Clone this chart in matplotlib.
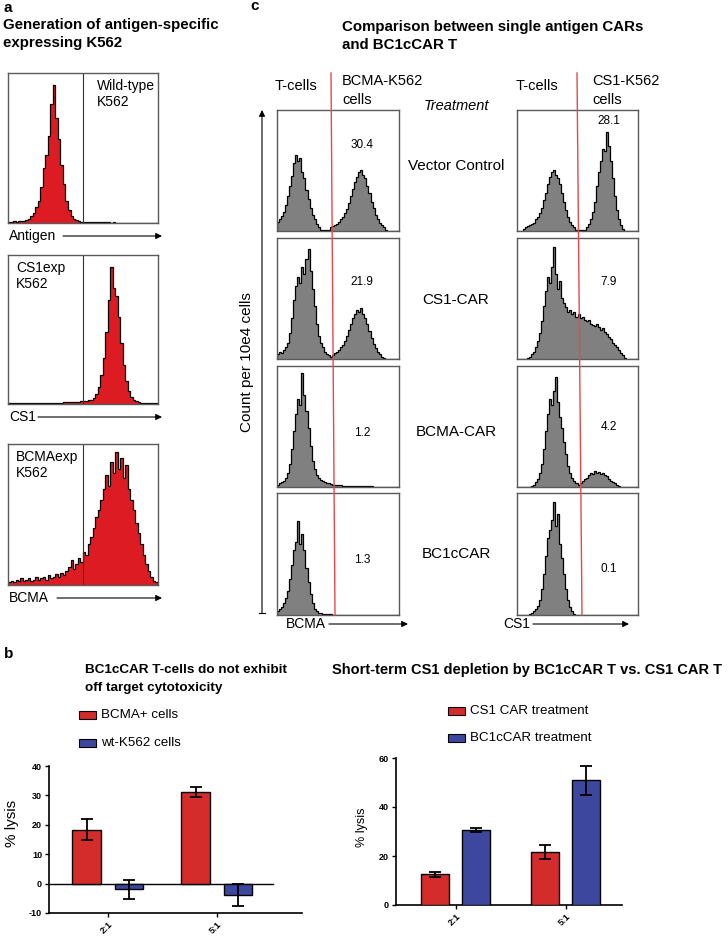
import numpy as np
import matplotlib
matplotlib.use("Agg")
import matplotlib.pyplot as plt
from matplotlib.patches import Rectangle

plt.rcParams['font.family'] = ['Liberation Sans', 'DejaVu Sans']

W, H = 728, 941

# ---- panel a: antigen expression histograms (60 bins, height as fraction of box) ----
wt_k562 = [0.01, 0.01, 0.012, 0.01, 0.012, 0.012, 0.015, 0.02, 0.03, 0.05,
           0.07, 0.11, 0.15, 0.25, 0.38, 0.47, 0.6, 0.82, 0.95, 0.72,
           0.58, 0.4, 0.27, 0.15, 0.09, 0.05, 0.03, 0.02, 0.015, 0.01,
           0.006, 0.005, 0.005, 0.005, 0.004, 0.005, 0.004, 0.004, 0.004, 0.004,
           0.004, 0.003, 0.004, 0.003, 0.003, 0.003, 0.003, 0.003, 0.003, 0.003,
           0.003, 0.003, 0.002, 0.003, 0.002, 0.002, 0.002, 0.002, 0.002, 0.002]
cs1exp_k562 = [0.004, 0.004, 0.004, 0.004, 0.004, 0.005, 0.005, 0.005, 0.005, 0.006,
               0.006, 0.006, 0.007, 0.007, 0.008, 0.008, 0.008, 0.009, 0.009, 0.01,
               0.01, 0.01, 0.012, 0.012, 0.012, 0.014, 0.014, 0.015, 0.016, 0.018,
               0.02, 0.022, 0.025, 0.03, 0.04, 0.07, 0.12, 0.2, 0.32, 0.5,
               0.72, 0.95, 0.8, 0.75, 0.6, 0.42, 0.27, 0.16, 0.09, 0.05,
               0.03, 0.02, 0.015, 0.01, 0.01, 0.008, 0.006, 0.005, 0.004, 0.004]
bcmaexp_k562 = [0.02, 0.03, 0.02, 0.04, 0.03, 0.05, 0.03, 0.04, 0.05, 0.03,
                0.04, 0.06, 0.04, 0.05, 0.06, 0.04, 0.07, 0.05, 0.06, 0.08,
                0.06, 0.09, 0.07, 0.1, 0.13, 0.18, 0.12, 0.15, 0.2, 0.17,
                0.24, 0.22, 0.3, 0.35, 0.42, 0.5, 0.55, 0.62, 0.7, 0.8,
                0.72, 0.9, 0.82, 0.97, 0.85, 0.93, 0.78, 0.88, 0.7, 0.62,
                0.55, 0.45, 0.38, 0.3, 0.22, 0.15, 0.1, 0.06, 0.03, 0.02]
a_hists = [wt_k562, cs1exp_k562, bcmaexp_k562]
a_names = [["Wild-type", "K562"], ["CS1exp", "K562"], ["BCMAexp", "K562"]]
a_axis = ["Antigen", "CS1", "BCMA"]

# ---- panel c: treatment histograms ----
vc_bcma = [0.08, 0.1, 0.13, 0.16, 0.22, 0.3, 0.38, 0.47, 0.58, 0.65,
           0.6, 0.62, 0.5, 0.45, 0.35, 0.27, 0.2, 0.14, 0.1, 0.06,
           0.03, 0.01, 0.005, 0.005, 0.005, 0.01, 0.03, 0.04, 0.05, 0.06,
           0.08, 0.1, 0.12, 0.15, 0.19, 0.24, 0.3, 0.36, 0.42, 0.46,
           0.5, 0.52, 0.48, 0.45, 0.38, 0.32, 0.25, 0.2, 0.14, 0.1,
           0.07, 0.05, 0.03, 0.01, 0, 0, 0, 0, 0, 0]
vc_cs1 = [0, 0, 0, 0.02, 0.03, 0.04, 0.05, 0.06, 0.07, 0.1,
          0.12, 0.15, 0.2, 0.26, 0.32, 0.4, 0.46, 0.5, 0.52, 0.48,
          0.45, 0.4, 0.32, 0.25, 0.18, 0.12, 0.08, 0.05, 0.03, 0.01,
          0.005, 0.005, 0.005, 0.01, 0.03, 0.06, 0.1, 0.16, 0.25, 0.38,
          0.5, 0.6, 0.7, 0.68, 0.84, 0.72, 0.6, 0.45, 0.3, 0.18,
          0.1, 0.05, 0.02, 0, 0, 0, 0, 0, 0, 0]
cs1car_bcma = [0.04, 0.06, 0.05, 0.08, 0.1, 0.14, 0.22, 0.35, 0.5, 0.62,
               0.7, 0.65, 0.78, 0.72, 0.85, 0.94, 0.75, 0.6, 0.45, 0.3,
               0.2, 0.14, 0.1, 0.06, 0.04, 0.03, 0.02, 0.03, 0.05, 0.06,
               0.08, 0.1, 0.12, 0.15, 0.2, 0.25, 0.3, 0.35, 0.38, 0.42,
               0.4, 0.43, 0.38, 0.35, 0.3, 0.24, 0.18, 0.13, 0.09, 0.06,
               0.04, 0.02, 0.01, 0, 0, 0, 0, 0, 0, 0]
cs1car_cs1 = [0, 0, 0, 0, 0, 0.01, 0.02, 0.04, 0.06, 0.1,
              0.15, 0.22, 0.32, 0.45, 0.58, 0.7, 0.65, 0.78, 0.95, 0.72,
              0.6, 0.66, 0.52, 0.48, 0.44, 0.4, 0.42, 0.38, 0.4, 0.36,
              0.38, 0.35, 0.36, 0.33, 0.32, 0.33, 0.3, 0.29, 0.28, 0.3,
              0.27, 0.25, 0.26, 0.23, 0.21, 0.19, 0.17, 0.14, 0.12, 0.1,
              0.08, 0.05, 0.03, 0.01, 0, 0, 0, 0, 0, 0]
bcmacar_bcma = [0.02, 0.03, 0.04, 0.05, 0.08, 0.12, 0.2, 0.32, 0.48, 0.62,
                0.75, 0.7, 0.97, 0.78, 0.65, 0.5, 0.35, 0.22, 0.15, 0.1,
                0.08, 0.06, 0.05, 0.04, 0.035, 0.03, 0.025, 0.02, 0.02, 0.018,
                0.015, 0.015, 0.012, 0.012, 0.01, 0.01, 0.009, 0.008, 0.008, 0.007,
                0.007, 0.006, 0.006, 0.006, 0.005, 0.005, 0.005, 0.004, 0.004, 0.004,
                0.004, 0.003, 0.003, 0.003, 0.003, 0.003, 0.002, 0.002, 0.002, 0.002]
bcmacar_cs1 = [0, 0, 0, 0, 0, 0, 0, 0.01, 0.02, 0.04,
               0.07, 0.12, 0.2, 0.32, 0.48, 0.62, 0.75, 0.7, 0.82, 0.94,
               0.72, 0.6, 0.5, 0.38, 0.28, 0.18, 0.12, 0.08, 0.05, 0.03,
               0.02, 0.03, 0.05, 0.07, 0.08, 0.1, 0.12, 0.11, 0.14, 0.12,
               0.13, 0.11, 0.12, 0.1, 0.09, 0.07, 0.05, 0.04, 0.03, 0.02,
               0.01, 0, 0, 0, 0, 0, 0, 0, 0, 0]
bc1c_bcma = [0.03, 0.05, 0.07, 0.1, 0.14, 0.2, 0.3, 0.42, 0.55, 0.62,
             0.79, 0.6, 0.68, 0.55, 0.4, 0.28, 0.18, 0.1, 0.05, 0.03,
             0.02, 0.015, 0.01, 0.01, 0.008, 0.005, 0.005, 0.003, 0, 0,
             0, 0, 0, 0, 0, 0, 0, 0, 0, 0,
             0, 0, 0, 0, 0, 0, 0, 0, 0, 0,
             0, 0, 0, 0, 0, 0, 0, 0, 0, 0]
bc1c_cs1 = [0, 0, 0, 0, 0, 0, 0.01, 0.02, 0.03, 0.05,
            0.08, 0.13, 0.22, 0.35, 0.5, 0.65, 0.72, 0.8, 0.95, 0.75,
            0.85, 0.6, 0.48, 0.35, 0.22, 0.13, 0.07, 0.03, 0.01, 0,
            0, 0, 0, 0, 0, 0, 0, 0, 0, 0,
            0, 0, 0, 0, 0, 0, 0, 0, 0, 0,
            0, 0, 0, 0, 0, 0, 0, 0, 0, 0]
treatments = ["Vector Control", "CS1-CAR", "BCMA-CAR", "BC1cCAR"]
c_bcma = [vc_bcma, cs1car_bcma, bcmacar_bcma, bc1c_bcma]
c_cs1 = [vc_cs1, cs1car_cs1, bcmacar_cs1, bc1c_cs1]
pct_bcma = ["30.4", "21.9", "1.2", "1.3"]
pct_cs1 = ["28.1", "7.9", "4.2", "0.1"]

# ---- panel b: lysis bars ----
ratios = ["2:1", "5:1"]
bcma_pos = [18.4, 31.1]
bcma_pos_err = [3.5, 1.8]
wt_cells = [-2.0, -4.0]
wt_cells_err = [3.1, 3.7]
cs1_car = [12.5, 21.6]
cs1_car_err = [1.0, 2.7]
bc1c_car = [30.8, 50.9]
bc1c_car_err = [0.8, 5.8]

RED_FLOW = '#dc1c22'
GRAY_FLOW = '#808080'
RED_BAR = '#d42b2b'
BLUE_BAR = '#3d479e'

fig = plt.figure(figsize=(W / 100, H / 100), dpi=100)


def px_axes(x0, y0, x1, y1):
    return fig.add_axes([x0 / W, 1 - y1 / H, (x1 - x0) / W, (y1 - y0) / H])


def flow(ax, counts, fill):
    edges = np.linspace(0, 1, len(counts) + 1)
    ax.stairs(counts, edges, fill=True, color=fill, lw=0)
    ax.stairs(counts, edges, color='black', lw=0.9)
    ax.set_xlim(0, 1)
    ax.set_ylim(0, 1.03)
    ax.set_xticks([])
    ax.set_yticks([])
    for s in ax.spines.values():
        s.set_color('#5a5a5a')
        s.set_linewidth(1.0)


ov = fig.add_axes([0, 0, 1, 1], zorder=10)
ov.set_xlim(0, W)
ov.set_ylim(H, 0)
ov.axis('off')

arrow = dict(arrowstyle='-|>', color='black', lw=0.8, mutation_scale=9,
             shrinkA=0, shrinkB=0)

# panel a
ov.text(3, 8, "a", fontsize=11, fontweight='bold', va='center')
ov.text(3, 25, "Generation of antigen-specific", fontsize=10.8, fontweight='bold', va='center')
ov.text(3, 43, "expressing K562", fontsize=10.8, fontweight='bold', va='center')
a_boxes = [(73, 223), (255, 404), (444, 585)]
a_text_x = [97, 16, 16]
arrow_start = [63, 38, 57]
for i, (y0, y1) in enumerate(a_boxes):
    ax = px_axes(8, y0, 158, y1)
    flow(ax, a_hists[i], RED_FLOW)
    ax.axvline(0.5, color='#333333', lw=0.8)
    ov.text(a_text_x[i], y0 + 13, a_names[i][0], fontsize=10, va='center')
    ov.text(a_text_x[i], y0 + 29, a_names[i][1], fontsize=10, va='center')
    ov.text(9, y1 + 13, a_axis[i], fontsize=10, va='center')
    ov.annotate('', xy=(162, y1 + 13), xytext=(arrow_start[i], y1 + 13), arrowprops=arrow)

# panel c
ov.text(250, 6, "c", fontsize=11, fontweight='bold', va='center')
ov.text(342, 27, "Comparison between single antigen CARs", fontsize=10.8, fontweight='bold', va='center')
ov.text(342, 45, "and BC1cCAR T", fontsize=10.8, fontweight='bold', va='center')
ov.text(275, 86, "T-cells", fontsize=10.5, va='center')
ov.text(342, 81, "BCMA-K562", fontsize=10.5, va='center')
ov.text(342, 100, "cells", fontsize=10.5, va='center')
ov.text(516, 86, "T-cells", fontsize=10.5, va='center')
ov.text(592, 81, "CS1-K562", fontsize=10.5, va='center')
ov.text(592, 100, "cells", fontsize=10.5, va='center')
ov.text(456, 106, "Treatment", fontsize=10.5, style='italic', ha='center', va='center')

c_rows = [(110, 231), (238, 359), (366, 487), (493, 615)]
lab_y = [166, 300, 432, 554]
num_y_l = [145, 282, 433, 560]
num_y_r = [121, 282, 427, 569]
for i, (y0, y1) in enumerate(c_rows):
    axl = px_axes(277, y0, 399, y1)
    flow(axl, c_bcma[i], GRAY_FLOW)
    axr = px_axes(517, y0, 638, y1)
    flow(axr, c_cs1[i], GRAY_FLOW)
    ov.text(362, num_y_l[i], pct_bcma[i], fontsize=8.5, ha='center', va='center')
    ov.text(609, num_y_r[i], pct_cs1[i], fontsize=8.5, ha='center', va='center')
    ov.text(456, lab_y[i], treatments[i], fontsize=11, ha='center', va='center')

ov.plot([331, 335], [73, 615], color='#e8474c', lw=1.0)
ov.plot([577, 582], [73, 615], color='#e8474c', lw=1.0)

ov.annotate('', xy=(262, 110), xytext=(262, 613), arrowprops=arrow)
ov.plot([259, 265], [613, 613], color='black', lw=0.8)
ov.text(247, 362, "Count per 10e4 cells", fontsize=11, rotation=90, ha='center', va='center')

ov.text(286, 624, "BCMA", fontsize=10, va='center')
ov.annotate('', xy=(408, 624), xytext=(329, 624), arrowprops=arrow)
ov.text(503, 624, "CS1", fontsize=10, va='center')
ov.annotate('', xy=(629, 624), xytext=(533, 624), arrowprops=arrow)

# panel b
ov.text(4, 654, "b", fontsize=11, fontweight='bold', va='center')
ov.text(85, 670, "BC1cCAR T-cells do not exhibit", fontsize=9.7, fontweight='bold', va='center')
ov.text(85, 688, "off target cytotoxicity", fontsize=9.7, fontweight='bold', va='center')
ov.text(332, 670, "Short-term CS1 depletion by BC1cCAR T vs. CS1 CAR T", fontsize=10.5,
        fontweight='bold', va='center')

legend_items = [
    (79, 715, RED_BAR, "BCMA+ cells"),
    (79, 743, BLUE_BAR, "wt-K562 cells"),
    (448, 711, RED_BAR, "CS1 CAR treatment"),
    (448, 738, BLUE_BAR, "BC1cCAR treatment"),
]
for lx, ly, col, txt in legend_items:
    ov.add_patch(Rectangle((lx, ly - 4), 17, 8, facecolor=col, edgecolor='black', lw=0.8))
    ov.text(lx + 22, ly, txt, fontsize=9.6, va='center')

ov.text(12, 823, "% lysis", fontsize=11, rotation=90, ha='center', va='center')
ov.text(362, 827, "% lysis", fontsize=9, rotation=90, ha='center', va='center')


def bar_axes(ax, yticks):
    for s in ['top', 'right']:
        ax.spines[s].set_visible(False)
    for s in ['left', 'bottom']:
        ax.spines[s].set_linewidth(1.2)
    ax.set_yticks(yticks)
    ax.set_yticklabels([str(t) for t in yticks], fontsize=6.5, fontweight='bold')
    ax.set_xticks(range(len(ratios)))
    ax.set_xticklabels(ratios, fontsize=6.5, fontweight='bold', rotation=45,
                       ha='right', rotation_mode='anchor')
    ax.tick_params(length=3, width=1.0, pad=2)
    ax.patch.set_alpha(0)


x = np.arange(len(ratios))
err_kw = dict(ecolor='black', elinewidth=1.3, capsize=4, capthick=1.3)

axb1 = px_axes(49, 766, 302, 913)
axb1.bar(x - 0.195, bcma_pos, 0.26, yerr=bcma_pos_err, color=RED_BAR,
         edgecolor='black', lw=1.0, error_kw=err_kw, zorder=3)
axb1.bar(x + 0.195, wt_cells, 0.26, yerr=wt_cells_err, color=BLUE_BAR,
         edgecolor='black', lw=1.0, error_kw=err_kw, zorder=3)
axb1.plot([-0.54, 1.51], [0, 0], color='black', lw=1.0, zorder=2)
axb1.set_xlim(-0.54, 1.78)
axb1.set_ylim(-10, 40)
bar_axes(axb1, [-10, 0, 10, 20, 30, 40])

axb2 = px_axes(396, 758, 622, 905)
axb2.bar(x - 0.19, cs1_car, 0.255, yerr=cs1_car_err, color=RED_BAR,
         edgecolor='black', lw=1.0, error_kw=err_kw, zorder=3)
axb2.bar(x + 0.18, bc1c_car, 0.255, yerr=bc1c_car_err, color=BLUE_BAR,
         edgecolor='black', lw=1.0, error_kw=err_kw, zorder=3)
axb2.set_xlim(-0.545, 1.51)
axb2.set_ylim(0, 60)
bar_axes(axb2, [0, 20, 40, 60])

fig.savefig("out.png", dpi=100)
